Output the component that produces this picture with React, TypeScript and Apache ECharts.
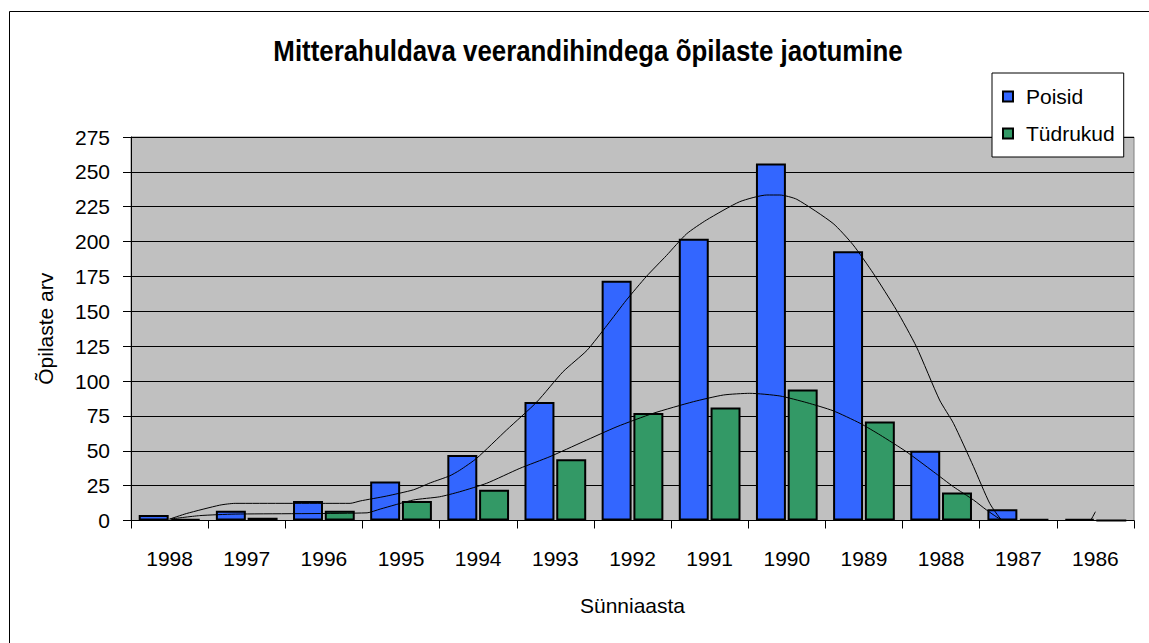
import React, { useEffect, useRef } from "react";
import * as echarts from "echarts";

const categories = ["1998", "1997", "1996", "1995", "1994", "1993", "1992", "1991", "1990", "1989", "1988", "1987", "1986"];
const poisid = [4, 7, 14, 28, 47, 85, 172, 202, 256, 193, 50, 8, 1];
const tudrukud = [1, 2, 7, 14, 22, 44, 77, 81, 94, 71, 20, 1, 0];
const yTicks = { min: 0, max: 275, interval: 25 };

// trend curves: [position in category units, value]
const poisidTrend = [
  [0.5, 1], [0.72, 5], [1.15, 11], [1.35, 12.3], [2.84, 12.3], [2.97, 14], [3.31, 17.5],
  [3.66, 22], [3.88, 27], [4.13, 32], [4.26, 36], [4.48, 44.6], [4.87, 65], [5.26, 85],
  [5.6, 106.7], [5.91, 122], [6.17, 140], [6.42, 158], [6.68, 175], [6.94, 190],
  [7.2, 205.5], [7.46, 215.5], [7.89, 228.6], [8.24, 233.4], [8.41, 233.4], [8.63, 230.3],
  [9.1, 213], [9.36, 197.6], [9.62, 177.3], [9.92, 151], [10.18, 124.6], [10.48, 86.4],
  [10.66, 69.7], [10.92, 38.6], [11.13, 12.3], [11.29, 0], [11.5, -8], [11.99, -14],
  [12.36, -6], [12.5, 6.3],
];
const tudrukudTrend = [
  [0.5, 1], [0.89, 3.5], [1.35, 4.6], [3.06, 5.5], [3.23, 8.2], [3.66, 14.7], [4.0, 17],
  [4.26, 20.6], [4.61, 26.7], [5.04, 37.4], [5.43, 45.8], [5.86, 56.5], [6.3, 67.3],
  [6.77, 76.9], [7.29, 85.2], [7.68, 90], [8.02, 91.2], [8.41, 89.3], [8.76, 84.5],
  [9.1, 78.7], [9.45, 69.7], [9.71, 61.3], [10.05, 49.3], [10.4, 35], [10.66, 24.2],
  [10.92, 14.7], [11.09, 7.5], [11.29, 0.4], [11.65, -3], [12.5, -2],
];

const FONT = "'Liberation Sans', Arial, sans-serif";

export default function App() {
  const ref = useRef<HTMLDivElement>(null);
  useEffect(() => {
    document.body.style.margin = "0";
    const chart = echarts.init(ref.current!, null, { renderer: "svg" });
    chart.setOption({
      animation: false,
      backgroundColor: "#ffffff",
      textStyle: { fontFamily: FONT },
      graphic: [
        {
          type: "rect",
          shape: { x: 9.5, y: 11.5, width: 1300, height: 800 },
          style: { fill: "none", stroke: "#000", lineWidth: 1 },
          z: -1,
        },
        {
          type: "text",
          x: 588,
          y: 51,
          scaleX: 0.862,
          style: {
            text: "Mitterahuldava veerandihindega õpilaste jaotumine",
            align: "center",
            verticalAlign: "middle",
            font: `bold 30px ${FONT}`,
            fill: "#000",
          },
        },
      ],
      legend: {
        data: ["Poisid", "Tüdrukud"],
        orient: "vertical",
        left: 992,
        top: 73,
        padding: [13, 9, 13, 10],
        itemGap: 16,
        itemWidth: 10,
        itemHeight: 10,
        icon: "rect",
        backgroundColor: "#fff",
        borderColor: "#000",
        borderWidth: 1,
        borderRadius: 0,
        textStyle: { fontSize: 21, color: "#000", fontFamily: FONT, padding: [0, 0, 0, 8] },
      },
      grid: {
        left: 131,
        right: 15,
        top: 137,
        bottom: 122.5,
        show: true,
        backgroundColor: "#c0c0c0",
        borderColor: "#808080",
        borderWidth: 1,
      },
      xAxis: [
        {
          type: "category",
          data: categories,
          boundaryGap: true,
          name: "Sünniaasta",
          nameLocation: "middle",
          nameGap: 74.5,
          nameTextStyle: { fontSize: 21, color: "#000", fontFamily: FONT },
          axisLine: { lineStyle: { color: "#000", width: 1 } },
          axisTick: { show: true, length: 8, lineStyle: { color: "#000" } },
          axisLabel: { fontSize: 21, color: "#000", margin: 27.5, fontFamily: FONT },
          splitLine: { show: false },
        },
        {
          type: "value",
          min: 0,
          max: 13,
          show: false,
          position: "bottom",
        },
      ],
      yAxis: {
        type: "value",
        min: yTicks.min,
        max: yTicks.max,
        interval: yTicks.interval,
        name: "Õpilaste arv",
        nameLocation: "middle",
        nameGap: 75,
        nameRotate: 90,
        nameTextStyle: { fontSize: 21, color: "#000", fontFamily: FONT },
        axisLine: { show: true, lineStyle: { color: "#000", width: 1 } },
        axisTick: { show: true, length: 8, lineStyle: { color: "#000" } },
        axisLabel: { fontSize: 21, color: "#000", margin: 21, fontFamily: FONT },
        splitLine: { show: true, lineStyle: { color: "#000", width: 1 } },
      },
      series: [
        {
          name: "Poisid",
          type: "bar",
          data: poisid,
          barCategoryGap: "20%",
          barGap: "6%",
          itemStyle: { color: "#3366ff", borderColor: "#000", borderWidth: 2 },
        },
        {
          name: "Tüdrukud",
          type: "bar",
          data: tudrukud,
          itemStyle: { color: "#339966", borderColor: "#000", borderWidth: 2 },
        },
        {
          name: "Poisid trend",
          type: "line",
          xAxisIndex: 1,
          data: poisidTrend,
          symbol: "none",
          smooth: 0.2,
          clip: true,
          lineStyle: { color: "#000", width: 1 },
          z: 5,
        },
        {
          name: "Tüdrukud trend",
          type: "line",
          xAxisIndex: 1,
          data: tudrukudTrend,
          symbol: "none",
          smooth: 0.2,
          clip: true,
          lineStyle: { color: "#000", width: 1 },
          z: 5,
        },
      ],
    });
    return () => chart.dispose();
  }, []);
  return <div ref={ref} style={{ width: 1149, height: 643 }} />;
}
